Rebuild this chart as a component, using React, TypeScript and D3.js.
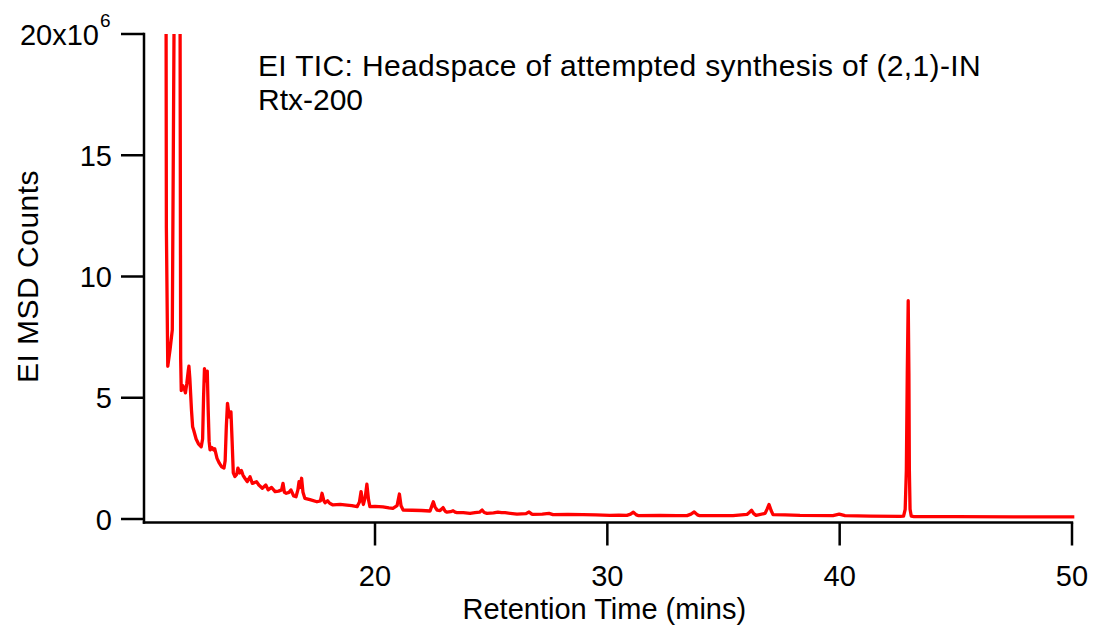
import React from "react";
import * as d3 from "d3";

// Retention time (mins) and EI MSD counts (x10^6)
const times: number[] = [
  10.95, 11.02, 11.08, 11.18, 11.275, 11.36, 11.42, 11.55, 11.607, 11.635,
  11.66, 11.72, 11.78, 11.84, 11.9, 11.96, 11.99, 12.03, 12.1, 12.15,
  12.2, 12.3, 12.4, 12.52, 12.58, 12.62, 12.66, 12.7, 12.78, 12.82,
  12.86, 12.9, 12.98, 13.05, 13.1, 13.2, 13.3, 13.4, 13.5, 13.55,
  13.6, 13.65, 13.7, 13.74, 13.8, 13.85, 13.9, 13.97, 14.05, 14.1,
  14.18, 14.25, 14.32, 14.4, 14.5, 14.62, 14.72, 14.9, 15.0, 15.15,
  15.3, 15.4, 15.55, 15.7, 15.85, 15.98, 16.04, 16.1, 16.18, 16.3,
  16.38, 16.5, 16.6, 16.68, 16.73, 16.78, 16.84, 16.9, 16.98, 17.2,
  17.5, 17.65, 17.72, 17.8, 17.85, 17.96, 18.05, 18.19, 18.5, 18.79,
  19.0, 19.23, 19.33, 19.4, 19.46, 19.5, 19.58, 19.65, 19.72, 19.78,
  20.0, 20.34, 20.6, 20.77, 20.95, 21.05, 21.12, 21.21, 21.6, 22.0,
  22.37, 22.45, 22.51, 22.58, 22.67, 22.8, 22.93, 23.02, 23.1, 23.25,
  23.36, 23.45, 23.53, 23.8, 24.09, 24.3, 24.5, 24.61, 24.7, 24.82,
  25.1, 25.29, 25.45, 25.6, 26.11, 26.5, 26.63, 26.75, 26.8, 27.2,
  27.49, 27.66, 28.3, 28.95, 29.5, 30.11, 30.5, 30.84, 31.0, 31.12,
  31.25, 31.32, 32.27, 33.0, 33.43, 33.6, 33.74, 33.88, 33.95, 35.41,
  36.01, 36.12, 36.21, 36.3, 36.4, 36.79, 36.88, 36.96, 37.05, 37.13,
  37.65, 38.29, 39.71, 39.98, 40.23, 41.31, 42.6, 42.75, 42.82, 42.87,
  42.91, 42.95, 42.98, 43.0, 43.03, 43.08, 43.2, 45.0, 47.5, 50.1,
];

const countsM: number[] = [
  60, 12, 6.3, 7.0, 7.8, 22, 90, 90, 22, 6.6,
  5.3, 5.5, 5.4, 5.2, 5.6, 6.1, 6.3, 5.8, 4.5, 3.8,
  3.65, 3.3, 3.1, 2.98, 3.3, 5.0, 6.2, 5.7, 6.1, 4.5,
  3.2, 2.85, 2.95, 2.85, 2.9, 2.5, 2.3, 2.15, 2.1, 2.4,
  3.8, 4.77, 4.4, 4.2, 4.42, 3.2, 1.9, 1.75, 1.85, 2.1,
  1.9, 2.0, 1.8, 1.68, 1.54, 1.74, 1.47, 1.54, 1.4, 1.27,
  1.4, 1.2, 1.3, 1.13, 1.15, 1.2, 1.47, 1.1, 1.06, 1.1,
  1.2, 0.95, 0.92, 1.2, 1.54, 1.3, 1.68, 1.1, 0.85, 0.8,
  0.71, 0.75, 1.06, 0.75, 0.67, 0.75, 0.65, 0.58, 0.6, 0.57,
  0.55, 0.51, 0.7, 1.13, 0.75, 0.6, 0.9, 1.44, 0.8, 0.51,
  0.52, 0.5, 0.46, 0.44, 0.55, 1.03, 0.55, 0.37, 0.36, 0.35,
  0.33, 0.55, 0.71, 0.5, 0.37, 0.35, 0.47, 0.32, 0.28, 0.3,
  0.34, 0.28, 0.26, 0.26, 0.23, 0.26, 0.28, 0.37, 0.27, 0.23,
  0.25, 0.28, 0.26, 0.26, 0.2, 0.22, 0.29, 0.2, 0.19, 0.2,
  0.23, 0.18, 0.19, 0.18, 0.17, 0.15, 0.16, 0.15, 0.2, 0.28,
  0.17, 0.14, 0.15, 0.14, 0.14, 0.2, 0.29, 0.17, 0.14, 0.14,
  0.19, 0.28, 0.36, 0.22, 0.15, 0.23, 0.42, 0.6, 0.35, 0.18,
  0.17, 0.15, 0.14, 0.2, 0.14, 0.12, 0.11, 0.12, 0.4, 2.0,
  6.0, 9.0, 6.0, 2.0, 0.4, 0.12, 0.1, 0.1, 0.09, 0.09,
];

const xTicks: number[] = [20, 30, 40, 50];
const yTicks: number[] = [0, 5, 10, 15, 20];
const yTickLabels: string[] = ["0", "5", "10", "15", "20x10"];
const yExponent = "6";
const titleLines: string[] = ["EI TIC: Headspace of attempted synthesis of (2,1)-IN", "Rtx-200"];
const xTitle = "Retention Time (mins)";
const yTitle = "EI MSD Counts";

const W = 1093;
const H = 631;
const FONT = "'Liberation Sans', Arial, Helvetica, sans-serif";

export default function App() {
  const x = d3.scaleLinear().domain([10.1, 50]).range([145, 1072]);
  const y = d3.scaleLinear().domain([0, 20]).range([519, 34]);
  const data = times.map((t, i) => [t, countsM[i]] as [number, number]);
  const line = d3
    .line<[number, number]>()
    .x((d) => x(d[0]))
    .y((d) => y(d[1]));
  const axisY = 522.5;
  const axisX = 144;
  const tickLen = 23;
  const fs = 29;

  return (
    <svg
      width={W}
      height={H}
      viewBox={`0 0 ${W} ${H}`}
      style={{ position: "absolute", left: 0, top: 0, background: "#fff" }}
      fontFamily={FONT}
    >
      <defs>
        <clipPath id="plotclip">
          <rect x={0} y={34} width={W} height={H - 34} />
        </clipPath>
      </defs>
      <rect x={0} y={0} width={W} height={H} fill="#fff" />
      <path
        d={line(data) || ""}
        fill="none"
        stroke="#ff0000"
        strokeWidth={3.3}
        strokeLinejoin="round"
        clipPath="url(#plotclip)"
      />
      {/* Y axis */}
      <line x1={axisX} x2={axisX} y1={y(20) - 1.2} y2={axisY + 1.2} stroke="#000" strokeWidth={2.5} />
      {yTicks.map((v, i) => (
        <g key={v}>
          <line x1={axisX - tickLen} x2={axisX} y1={y(v)} y2={y(v)} stroke="#000" strokeWidth={2.5} />
          <text x={i === yTicks.length - 1 ? 99 : 112} y={y(v) + 10.5} fontSize={fs} textAnchor="end" fill="#000">
            {yTickLabels[i]}
          </text>
          {i === yTicks.length - 1 && (
            <text x={100} y={y(v) - 7} fontSize={19} textAnchor="start" fill="#000">
              {yExponent}
            </text>
          )}
        </g>
      ))}
      {/* X axis */}
      <line x1={axisX - 1.2} x2={1073.2} y1={axisY} y2={axisY} stroke="#000" strokeWidth={2.5} />
      {xTicks.map((t) => (
        <g key={t}>
          <line x1={x(t)} x2={x(t)} y1={axisY} y2={axisY + tickLen} stroke="#000" strokeWidth={2.5} />
          <text x={x(t)} y={586} fontSize={fs} textAnchor="middle" fill="#000">
            {t}
          </text>
        </g>
      ))}
      <text x={x(30) - 3} y={619} fontSize={fs} textAnchor="middle" fill="#000">
        {xTitle}
      </text>
      <text
        transform={`translate(38, ${(y(0) + y(20)) / 2}) rotate(-90)`}
        fontSize={30}
        letterSpacing={0.5}
        textAnchor="middle"
        fill="#000"
      >
        {yTitle}
      </text>
      {titleLines.map((s, i) => (
        <text key={i} x={258} y={76 + i * 34} fontSize={30} letterSpacing={i === 0 ? 0.35 : 0} fill="#000">
          {s}
        </text>
      ))}
    </svg>
  );
}
